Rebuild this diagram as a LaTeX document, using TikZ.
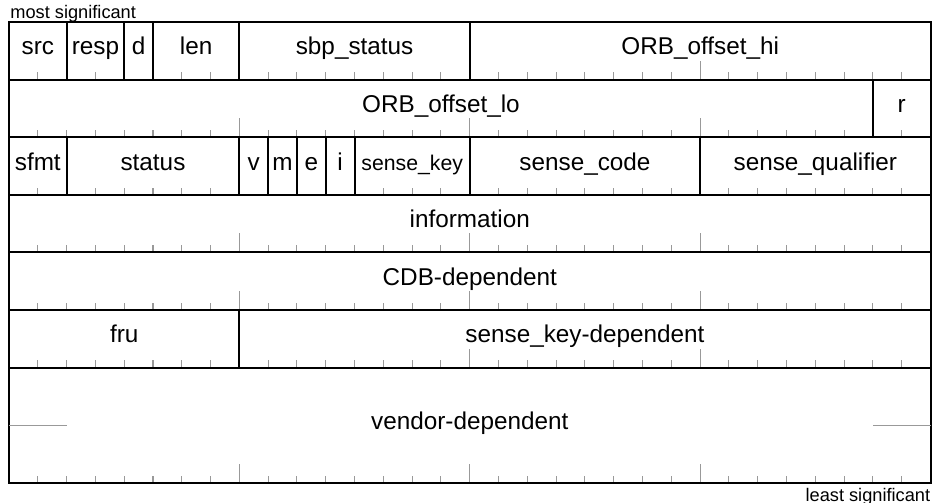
\documentclass[tikz,border=0pt]{standalone}
\usepackage{fontspec}
\setmainfont{Liberation Sans}
\usetikzlibrary{positioning}

\begin{document}
\begin{tikzpicture}[
    x=0.5cm, y=0.5cm,
    field/.style={draw, line width=1pt, minimum width=#1*0.5cm, minimum height=1cm,
                  inner sep=0pt, outer sep=0pt, text height=7pt, text depth=3pt,
                  font=\fontsize{12}{14}\selectfont},
    tick/.style={draw=gray!80, line width=0.5pt},
    contline/.style={draw=gray!80, line width=0.6pt},
    note/.style={inner sep=0pt, font=\fontsize{9}{10}\selectfont},
]
\useasboundingbox (-0.3125,-0.694) rectangle (32.05,16.764);

% bit ticks along the bottom of each word
\foreach \y in {0,4,6,8,10,12,14}{
    \foreach \b in {1,...,31}{
        \draw[tick] (\b,\y) -- ++(0,0.25);
    }
    \foreach \b in {8,16,24}{
        \draw[tick] (\b,\y) -- ++(0,0.66);
    }
}

% word 0
\node[field=2] (src) at (1,15) {src};
\node[field=2] (resp) at (3,15) {resp};
\node[field=1] (d) at (4.5,15) {d};
\node[field=3] (len) at (6.5,15) {len};
\node[field=8] (sbpstatus) at (12,15) {sbp\_status};
\node[field=16] (orbhi) at (24,15) {ORB\_offset\_hi};

% word 1
\node[field=30] (orblo) at (15,13) {ORB\_offset\_lo};
\node[field=2] (r) at (31,13) {r};

% word 2
\node[field=2] (sfmt) at (1,11) {sfmt};
\node[field=6] (status) at (5,11) {status};
\node[field=1] (v) at (8.5,11) {v};
\node[field=1] (m) at (9.5,11) {m};
\node[field=1] (e) at (10.5,11) {e};
\node[field=1] (i) at (11.5,11) {i};
\node[field=4, font=\fontsize{10.5}{12}\selectfont] (sensekey) at (14,11) {sense\_key};
\node[field=8] (sensecode) at (20,11) {sense\_code};
\node[field=8] (sensequal) at (28,11) {sense\_qualifier};

% words 3 to 5
\node[field=32] (info) at (16,9) {information};
\node[field=32] (cdb) at (16,7) {CDB-dependent};
\node[field=8] (fru) at (4,5) {fru};
\node[field=24] (skdep) at (20,5) {sense\_key-dependent};

% vendor words
\node[field=32, minimum height=2cm] (vendor) at (16,2) {vendor-dependent};
\draw[contline] (vendor.west) -- ++(2,0);
\draw[contline] (vendor.east) -- ++(-2,0);

\node[note, anchor=base west, xshift=0.5pt, yshift=1.5pt] (msb) at (src.north west) {most significant};
\node[note, anchor=north east, yshift=-2.5pt] (lsb) at (vendor.south east) {least significant};

\end{tikzpicture}
\end{document}
